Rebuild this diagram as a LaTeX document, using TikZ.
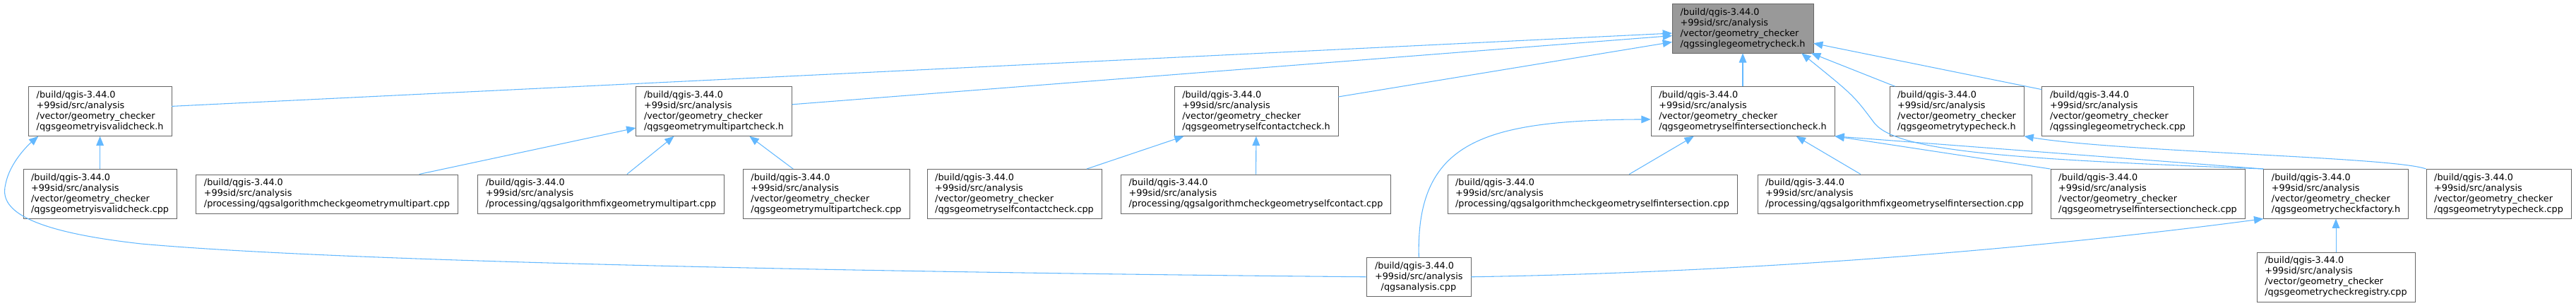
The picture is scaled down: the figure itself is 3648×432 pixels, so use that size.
\documentclass[tikz,border=0pt]{standalone}
\usepackage{fontspec}
\setmainfont{DejaVu Sans}
\usetikzlibrary{arrows.meta}

\definecolor{doxblue}{HTML}{63B8FF}
\definecolor{doxframe}{HTML}{666666}
\definecolor{doxgrey}{HTML}{999999}

\begin{document}
\begin{tikzpicture}[x=0.75pt,y=-0.75pt,
      every node/.style={draw=doxframe,fill=white,align=left,inner xsep=8.5pt,inner ysep=0pt,
        font=\fontsize{9.6}{11.25}\selectfont},
      fournode/.style={minimum height=52.5pt},
      threenode/.style={minimum height=41.25pt},
      topnode/.style={fournode,fill=doxgrey},
      dep/.style={draw=doxblue,line width=0.8pt,-{Triangle[length=10pt,width=8pt]}}
    ]
    \useasboundingbox (0,0) rectangle (3648,432);

    % the header that is included
    \node[topnode] (single) at (2468,40) {/build/qgis-3.44.0\\+99sid/src/analysis\\/vector/geometry\_checker\\/qgssinglegeometrycheck.h};

    % first level
    \node[fournode] (isvalidh) at (141.6,157.5) {/build/qgis-3.44.0\\+99sid/src/analysis\\/vector/geometry\_checker\\/qgsgeometryisvalidcheck.h};
    \node[fournode] (multih) at (1011,157.5) {/build/qgis-3.44.0\\+99sid/src/analysis\\/vector/geometry\_checker\\/qgsgeometrymultipartcheck.h};
    \node[fournode] (contacth) at (1779,157.5) {/build/qgis-3.44.0\\+99sid/src/analysis\\/vector/geometry\_checker\\/qgsgeometryselfcontactcheck.h};
    \node[fournode] (selfinth) at (2468,157.5) {/build/qgis-3.44.0\\+99sid/src/analysis\\/vector/geometry\_checker\\/qgsgeometryselfintersectioncheck.h};
    \node[fournode] (typeh) at (2771,157.5) {/build/qgis-3.44.0\\+99sid/src/analysis\\/vector/geometry\_checker\\/qgsgeometrytypecheck.h};
    \node[fournode] (singlecpp) at (2999,157.5) {/build/qgis-3.44.0\\+99sid/src/analysis\\/vector/geometry\_checker\\/qgssinglegeometrycheck.cpp};

    % second level
    \node[fournode] (isvalidcpp) at (141.6,274.3) {/build/qgis-3.44.0\\+99sid/src/analysis\\/vector/geometry\_checker\\/qgsgeometryisvalidcheck.cpp};
    \node[threenode] (chkmulti) at (463,274.3) {/build/qgis-3.44.0\\+99sid/src/analysis\\/processing/qgsalgorithmcheckgeometrymultipart.cpp};
    \node[threenode] (fixmulti) at (851,274.3) {/build/qgis-3.44.0\\+99sid/src/analysis\\/processing/qgsalgorithmfixgeometrymultipart.cpp};
    \node[fournode] (multicpp) at (1170,274.3) {/build/qgis-3.44.0\\+99sid/src/analysis\\/vector/geometry\_checker\\/qgsgeometrymultipartcheck.cpp};
    \node[fournode] (contactcpp) at (1436.5,274.3) {/build/qgis-3.44.0\\+99sid/src/analysis\\/vector/geometry\_checker\\/qgsgeometryselfcontactcheck.cpp};
    \node[threenode] (chkcontact) at (1778.5,274.3) {/build/qgis-3.44.0\\+99sid/src/analysis\\/processing/qgsalgorithmcheckgeometryselfcontact.cpp};
    \node[threenode] (chkselfint) at (2255,274.3) {/build/qgis-3.44.0\\+99sid/src/analysis\\/processing/qgsalgorithmcheckgeometryselfintersection.cpp};
    \node[threenode] (fixselfint) at (2683,274.3) {/build/qgis-3.44.0\\+99sid/src/analysis\\/processing/qgsalgorithmfixgeometryselfintersection.cpp};
    \node[fournode] (selfintcpp) at (3041.5,274.3) {/build/qgis-3.44.0\\+99sid/src/analysis\\/vector/geometry\_checker\\/qgsgeometryselfintersectioncheck.cpp};
    \node[fournode] (factoryh) at (3308,274.3) {/build/qgis-3.44.0\\+99sid/src/analysis\\/vector/geometry\_checker\\/qgsgeometrycheckfactory.h};
    \node[fournode] (typecpp) at (3538.5,274.3) {/build/qgis-3.44.0\\+99sid/src/analysis\\/vector/geometry\_checker\\/qgsgeometrytypecheck.cpp};

    % bottom level
    \node[threenode] (analysis) at (2009.3,391.8) {/build/qgis-3.44.0\\+99sid/src/analysis\\\hspace*{6.5pt}/qgsanalysis.cpp};
    \node[fournode] (registry) at (3308,391.8) {/build/qgis-3.44.0\\+99sid/src/analysis\\/vector/geometry\_checker\\/qgsgeometrycheckregistry.cpp};

    % includes of the top header
    \draw[dep] (isvalidh.4) -- (single.184);
    \draw[dep] (multih.5.6) -- (single.186.6);
    \draw[dep] (contacth.10.4) -- (single.191.2);
    \draw[dep] (selfinth) -- (single);
    \draw[dep] (factoryh.north west) .. controls (2850,225) and (2690,215) .. (2655,175) .. controls (2625,135) .. (single.-23.6);
    \draw[dep] (typeh.158) -- (single.-20);
    \draw[dep] (singlecpp.164) -- (single.-12);

    % includes of the first level
    \draw[dep] (isvalidcpp) -- (isvalidh);
    \draw[dep] (analysis.west) .. controls (1300,386) and (500,372) .. (200,345) .. controls (20,325) and (0,290) .. (8,260) .. controls (14,230) and (40,205) .. (isvalidh.202);
    \draw[dep] (chkmulti.12.5) -- (multih.192);
    \draw[dep] (fixmulti.37) -- (multih.212.5);
    \draw[dep] (multicpp.143.9) -- (multih.-35.3);
    \draw[dep] (contactcpp.19.3) -- (contacth.199);
    \draw[dep] (chkcontact) -- (contacth);
    \draw[dep] (analysis.north) .. controls (2005,200) and (2100,170) .. (selfinth.185);
    \draw[dep] (chkselfint.28.4) -- (selfinth.207.2);
    \draw[dep] (fixselfint.150.1) -- (selfinth.-25.9);
    \draw[dep] (selfintcpp.north west) -- (selfinth.south east);
    \draw[dep] (factoryh.north west) -- (selfinth.south east);
    \draw[dep] (typecpp.north west) .. controls (3390,222) and (3000,215) .. (typeh.south east);

    % includes of the checker factory
    \draw[dep] (analysis.east) .. controls (2500,385) and (2900,350) .. (factoryh.south west);
    \draw[dep] (registry) -- (factoryh);
\end{tikzpicture}
\end{document}
